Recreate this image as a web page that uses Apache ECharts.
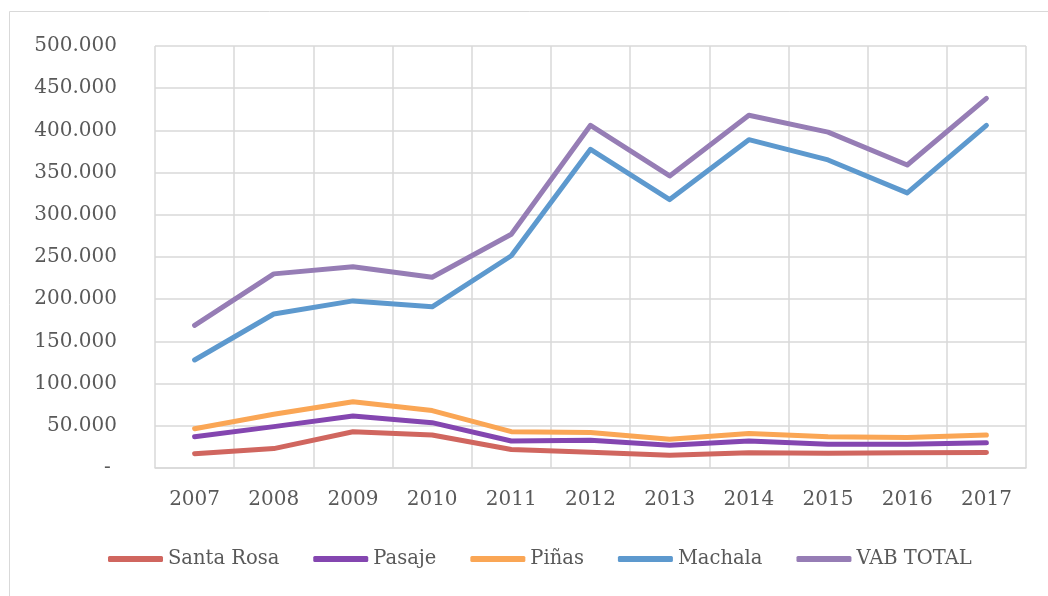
<!DOCTYPE html>
<html>
<head>
<meta charset="utf-8">
<script src="https://cdn.jsdelivr.net/npm/echarts@6/dist/echarts.min.js"></script>
<style>
html,body{margin:0;padding:0;background:#fff;}
#chart{width:1048px;height:596px;}
</style>
</head>
<body>
<div id="chart"></div>
<script>
const years = ['2007','2008','2009','2010','2011','2012','2013','2014','2015','2016','2017'];
const santaRosa = [17000, 23000, 43000, 39000, 22000, 18600, 15000, 18000, 17500, 18000, 18500];
const pasaje    = [37000, 49000, 61600, 53700, 32000, 33000, 27000, 32000, 28000, 28000, 30000];
const pinas     = [46600, 63600, 78500, 68000, 43000, 42000, 34000, 41000, 37000, 36000, 39000];
const machala   = [128000, 182500, 198000, 191000, 251500, 377600, 318000, 389000, 365000, 326000, 406000];
const vabTotal  = [169000, 230000, 238500, 226000, 277000, 406000, 346000, 418000, 398000, 359000, 438000];
const seriesNames = ['Santa Rosa', 'Pasaje', 'Piñas', 'Machala', 'VAB TOTAL'];
const colors = ['#D0665F', '#8446B0', '#FAA655', '#5D99CE', '#967DB5'];

const FONT = '"DejaVu Serif", serif';
const chart = echarts.init(document.getElementById('chart'));
const dataSets = [santaRosa, pasaje, pinas, machala, vabTotal];

function fmt(v){
  if (v === 0) return '- ';
  return (v/1000).toFixed(0) + '.000';
}

chart.setOption({
  animation: false,
  color: colors,
  graphic: [{
    type: 'rect',
    shape: {x: 9.5, y: 11.5, width: 1100, height: 700},
    style: {fill: 'none', stroke: '#d9d9d9', lineWidth: 1}
  }],
  grid: {left: 155, right: 22, top: 46, bottom: 128, containLabel: false},
  legend: {
    data: seriesNames,
    left: 108,
    top: 549,
    padding: 0,
    icon: 'roundRect',
    itemWidth: 55,
    itemHeight: 6,
    itemGap: 34,
    textStyle: {fontFamily: FONT, fontSize: 19.5, color: '#595959'}
  },
  xAxis: {
    type: 'category',
    data: years,
    boundaryGap: true,
    axisLine: {show: true, lineStyle: {color: '#d9d9d9', width: 1.5}},
    axisTick: {show: false},
    axisLabel: {fontFamily: FONT, fontSize: 20, color: '#595959', margin: 22},
    splitLine: {show: true, lineStyle: {color: '#d9d9d9', width: 1.5}}
  },
  yAxis: {
    type: 'value',
    min: 0,
    max: 500000,
    interval: 50000,
    axisLine: {show: false},
    axisTick: {show: false},
    axisLabel: {fontFamily: FONT, fontSize: 20, color: '#595959', margin: 38, formatter: fmt},
    splitLine: {show: true, lineStyle: {color: '#d9d9d9', width: 1.5}}
  },
  series: seriesNames.map((n, i) => ({
    name: n,
    type: 'line',
    data: dataSets[i],
    symbol: 'none',
    lineStyle: {width: 5, cap: 'round', join: 'round', color: colors[i]},
    itemStyle: {color: colors[i]}
  }))
});
</script>
</body>
</html>
